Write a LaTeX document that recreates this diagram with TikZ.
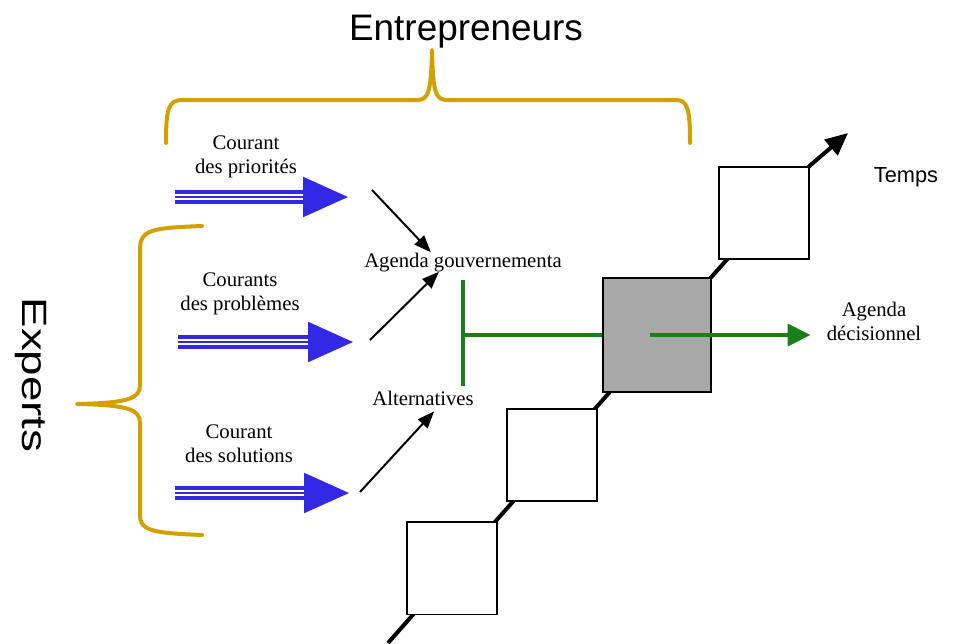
\documentclass[tikz,border=0pt]{standalone}
\usepackage{fontspec}
\setmainfont{Liberation Serif}
\newfontfamily\headfont{Liberation Sans}
\usetikzlibrary{arrows.meta, positioning, calc, backgrounds}

\definecolor{bracegold}{RGB}{212,160,0}
\definecolor{streamblue}{RGB}{50,40,230}
\definecolor{decgreen}{RGB}{25,128,25}
\definecolor{curgray}{RGB}{168,168,168}

\begin{document}
\begin{tikzpicture}[x=0.02cm, y=-0.02cm, font=\fontsize{11.8}{13.6}\selectfont,
	>={Triangle[length=0.34cm, width=0.26cm]},
	brace/.style={draw=bracegold, line width=0.08cm, line cap=round, line join=round},
	shaft/.style={draw=streamblue, line width=0.08cm, double=white, double distance=0.12cm, shorten >=0.85cm},
	shaftmid/.style={draw=streamblue, line width=0.045cm, -{Triangle[length=0.9cm, width=0.8cm]}},
	flow/.style={->, line width=0.04cm},
	stage/.style={draw, line width=0.04cm, fill=white, inner sep=0, minimum width=1.8cm, minimum height=1.86cm},
	timeline/.style={line width=0.08cm, -{Triangle[length=0.45cm, width=0.4cm]}},
	tbar/.style={draw=decgreen, line width=0.07cm},
	decarrow/.style={draw=decgreen, line width=0.07cm, shorten >=0.2cm, -{Triangle[length=0.46cm, width=0.44cm]}},
	big/.style={font={\headfont\fontsize{21}{25}\selectfont}}]
	\useasboundingbox (0,0) rectangle (954,643);

	% actors and braces
	\node[big, anchor=base] (entr) at (466,40) {Entrepreneurs};
	\node[font={\headfont\fontsize{20}{24}\selectfont}, anchor=base, rotate=-90] (exp) at (22,375) {\scalebox{1.3}[1]{Experts}};
	\draw[brace] (166,143) .. controls (166,110) and (168,100) .. (182,100) -- (416,100)
		.. controls (428,100) and (431,95) .. (432,50) .. controls (433,95) and (436,100) .. (448,100)
		-- (676,100) .. controls (688,100) and (690,110) .. (690,143);
	\draw[brace] (202,226) .. controls (150,228) and (140,230) .. (140,250) -- (140,385)
		.. controls (140,398) and (130,403) .. (77,404) .. controls (130,405) and (140,410) .. (140,423)
		-- (140,515) .. controls (140,530) and (150,533) .. (202,535);

	% three streams
	\foreach \n/\y/\xs/\xe/\lx/\ly/\T in {1/197/175/348/246/157/{Courant\\des priorités},
	                                      2/342/178/353/240/294/{Courants\\des problèmes},
	                                      3/493/175/349/239/444/{Courant\\des solutions}} {
		\node[align=center] (lab\n) at (\lx,\ly) {\T};
		\coordinate (s\n) at (\xs,\y);
		\coordinate (e\n) at (\xe,\y);
		\draw[shaft] (s\n) -- (e\n);
		\draw[shaftmid] (s\n) -- (e\n);
		}

	% agendas
	\node[inner sep=0, anchor=base] (agenda) at (463,267) {Agenda gouvernementa};
	\node[anchor=base] (alt) at (423,405) {Alternatives};
	\coordinate (a1) at (372,190);
	\coordinate (a2) at (370,340);
	\coordinate (a3) at (360,492);
	\draw[flow] (a1) -- ([xshift=1.34cm]agenda.north west);
	\draw[flow] (a2) -- ([xshift=1.5cm]agenda.south west);
	\draw[flow] (a3) -- ([xshift=1.36cm]alt.south west);

	% time steps
	\node[stage] (stage1) at (452,568) {};
	\node[stage] (stage2) at (552,455) {};
	\node[stage, fill=curgray, minimum width=2.16cm, minimum height=2.28cm] (stage3) at (657,335) {};
	\node[stage] (stage4) at (764,213) {};
	\coordinate (t0) at (388,643);
	\coordinate (t1) at (848,133);
	\begin{scope}[on background layer]
		\draw[timeline] (t0) -- (stage4.north east) -- (t1);
	\end{scope}
	\node[font={\headfont\fontsize{12.4}{15}\selectfont}, anchor=base] (temps) at (906,182) {Temps};

	% decision
	\node[align=center] (dec) at (874,321) {Agenda\\décisionnel};
	\coordinate (ttop) at (463,280);
	\coordinate (tbot) at (463,386);
	\draw[tbar] (ttop) -- (tbot);
	\draw[tbar] (stage3.west) -- (stage3.west -| ttop);
	\draw[decarrow] ([xshift=-0.14cm]stage3.center) -- (stage3.center -| dec.west);
\end{tikzpicture}
\end{document}
